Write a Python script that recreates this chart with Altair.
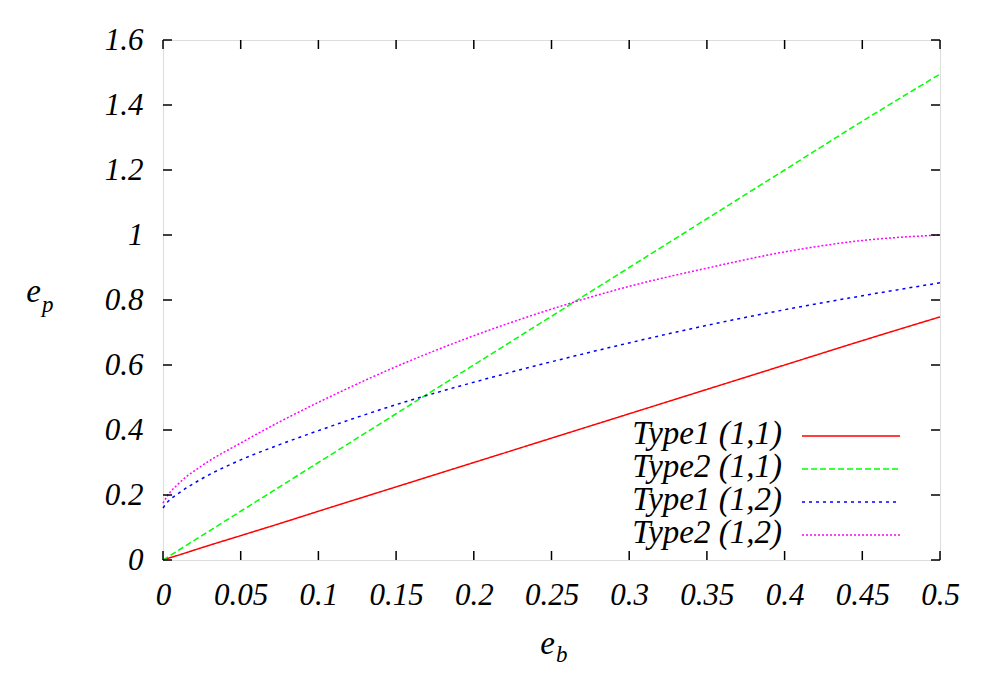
import altair as alt
import pandas as pd

# ---- data ----
series_names = ["Type1 (1,1)", "Type2 (1,1)", "Type1 (1,2)", "Type2 (1,2)"]
series_colors = ["#ff0000", "#00ff00", "#0000ff", "#ff00ff"]
series_dashes = [[1, 0], [6, 3], [3, 4], [2, 2]]

e_b = [0, 0.0025, 0.01, 0.025, 0.05, 0.075, 0.1, 0.15, 0.2, 0.25, 0.3, 0.35, 0.4, 0.45, 0.5]
type1_11 = [0, 0.004, 0.015, 0.038, 0.075, 0.112, 0.15, 0.225, 0.3, 0.375, 0.45, 0.525, 0.6, 0.675, 0.748]
type2_11 = [0, 0.0075, 0.03, 0.075, 0.15, 0.225, 0.3, 0.45, 0.6, 0.75, 0.9, 1.05, 1.2, 1.35, 1.495]
type1_12 = [0.16, 0.176, 0.205, 0.25, 0.308, 0.355, 0.398, 0.478, 0.547, 0.61, 0.668, 0.722, 0.77, 0.813, 0.853]
type2_12 = [0.175, 0.195, 0.235, 0.29, 0.36, 0.425, 0.485, 0.595, 0.69, 0.772, 0.842, 0.898, 0.948, 0.983, 1.0]

x_ticks = [0, 0.05, 0.1, 0.15, 0.2, 0.25, 0.3, 0.35, 0.4, 0.45, 0.5]
y_ticks = [0, 0.2, 0.4, 0.6, 0.8, 1.0, 1.2, 1.4, 1.6]

rows = []
for name, vals in zip(series_names, [type1_11, type2_11, type1_12, type2_12]):
    for xv, yv in zip(e_b, vals):
        rows.append({"series": name, "e_b": xv, "e_p": yv})
df = pd.DataFrame(rows)

W, H = 777, 520
FONT = "Liberation Serif"
FS = 31
LFS = 33

xscale = alt.Scale(domain=[0, 0.5], nice=False, zero=False)
yscale = alt.Scale(domain=[0, 1.6], nice=False, zero=False)
xaxis = alt.Axis(values=x_ticks, format="~g", title=None, tickSize=0, domain=False, grid=False,
                 labelFont=FONT, labelFontStyle="italic", labelFontSize=FS, labelColor="black",
                 labelPadding=20, labelFlush=False, labelOverlap=False)
yaxis = alt.Axis(values=y_ticks, format="~g", title=None, tickSize=0, domain=False, grid=False,
                 labelFont=FONT, labelFontStyle="italic", labelFontSize=FS, labelColor="black",
                 labelPadding=20, labelFlush=False, labelOverlap=False)

lines = alt.Chart(df).mark_line(strokeWidth=1.5, interpolate="monotone").encode(
    x=alt.X("e_b:Q", scale=xscale, axis=xaxis),
    y=alt.Y("e_p:Q", scale=yscale, axis=yaxis),
    color=alt.Color("series:N", scale=alt.Scale(domain=series_names, range=series_colors), legend=None),
    strokeDash=alt.StrokeDash("series:N", scale=alt.Scale(domain=series_names, range=series_dashes), legend=None),
    detail="series:N",
)

xt = pd.DataFrame({"e_b": x_ticks})
yt = pd.DataFrame({"e_p": y_ticks})
TL = 9
tick_style = dict(color="black", strokeWidth=1.5)
xt_bottom = alt.Chart(xt).mark_rule(**tick_style).encode(
    x=alt.X("e_b:Q", scale=xscale, axis=xaxis), y=alt.value(H), y2=alt.value(H - TL))
xt_top = alt.Chart(xt).mark_rule(**tick_style).encode(
    x=alt.X("e_b:Q", scale=xscale, axis=xaxis), y=alt.value(0), y2=alt.value(TL))
yt_left = alt.Chart(yt).mark_rule(**tick_style).encode(
    y=alt.Y("e_p:Q", scale=yscale, axis=yaxis), x=alt.value(0), x2=alt.value(TL))
yt_right = alt.Chart(yt).mark_rule(**tick_style).encode(
    y=alt.Y("e_p:Q", scale=yscale, axis=yaxis), x=alt.value(W), x2=alt.value(W - TL))

# axis titles (e with subscript)
def txt(s, x, y, size, align="left"):
    return alt.Chart(pd.DataFrame({"t": [s]})).mark_text(
        font=FONT, fontStyle="italic", fontSize=size, color="black", align=align, baseline="alphabetic"
    ).encode(text="t:N", x=alt.value(x), y=alt.value(y))

titles = [
    txt("e", 392, 614, LFS, "right"),
    txt("b", 393, 622, 23),
    txt("e", -122, 262, LFS, "right"),
    txt("p", -121, 272, 23),
]

# legend (gnuplot style: label on left, sample on right)
leg_layers = []
leg_y0, leg_dy = 394, 33
for i, (name, col, dash) in enumerate(zip(series_names, series_colors, series_dashes)):
    yy = leg_y0 + i * leg_dy
    leg_layers.append(
        alt.Chart(pd.DataFrame({"t": [name]})).mark_text(
            font=FONT, fontStyle="italic", fontSize=LFS, color="black", align="right", baseline="middle"
        ).encode(text="t:N", x=alt.value(619), y=alt.value(yy))
    )
    leg_layers.append(
        alt.Chart(pd.DataFrame({"t": [name]})).mark_rule(color=col, strokeWidth=1.5, strokeDash=dash).encode(
            x=alt.value(639), x2=alt.value(737), y=alt.value(yy + 2))
    )

chart = alt.layer(lines, xt_bottom, xt_top, yt_left, yt_right, *titles, *leg_layers).properties(
    width=W, height=H,
    autosize=alt.AutoSizeParams(type="none"),
    padding={"left": 155, "top": 32, "right": 40, "bottom": 130},
).configure_view(stroke="black", strokeWidth=1.5).configure(background="white")

chart.save("out.html", embed_options={"renderer": "svg", "actions": False})
